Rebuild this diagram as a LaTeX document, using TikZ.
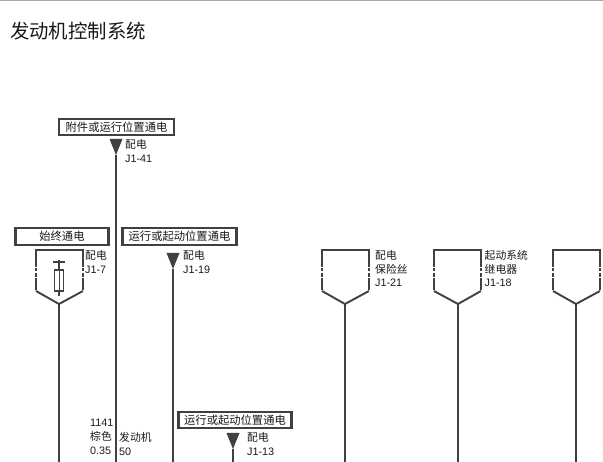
\documentclass[tikz,border=0pt]{standalone}
\usepackage{fontspec}
\setmainfont{Liberation Sans}
\newfontfamily\cjk{Noto Sans CJK SC}
\usetikzlibrary{positioning}
\definecolor{wire}{HTML}{404040}
\tikzset{
  powerbox/.style={draw=wire, line width=2.1pt, fill=white, minimum height=16.5pt, inner sep=0pt, font=\fontsize{11.3}{11.3}\selectfont\cjk, text=black!90},
  wireline/.style={draw=wire, line width=1.9pt},
  pinlabel/.style={anchor=north west, align=left, inner sep=0pt, font=\fontsize{10.8}{13.8}\selectfont, text=black!90},
  sidebreak/.style={draw=wire, line width=1.9pt, dash pattern=on 17pt off 1.5pt on 3pt off 1.5pt on 4pt off 1.5pt on 12pt},
  arrowpin/.style={fill=wire, draw=none}
}
\begin{document}
\begin{tikzpicture}[x=1pt, y=-1pt]
\useasboundingbox (0,0) rectangle (603,462);
\draw[gray!70, line width=1.5pt] (0,0.5) -- (603,0.5);
\node[anchor=west, inner sep=0pt, font=\fontsize{19.4}{19.4}\selectfont\cjk, text=black!90] (title) at (10, 31) {发动机控制系统};

% pins with solid arrow
\def\x{116}
\def\y{140}
\node[powerbox, minimum width=115pt] (boxa) at (116.5, 127) {附件或运行位置通电};
\coordinate (pina) at (\x, \y + 15);
\coordinate (enda) at (\x, 462);
\fill[arrowpin] (\x - 6.5, \y - 1) -- (\x + 6.5, \y - 1) -- (pina) -- cycle;
\draw[wireline] (pina) -- (enda);
\node[pinlabel] (laba) at (\x + 9, \y - 1) {{\cjk 配电}\\J1-41};

\def\x{173}
\def\y{254}
\node[powerbox, minimum width=114pt] (boxb) at (179.5, 236.5) {运行或起动位置通电};
\coordinate (pinb) at (\x, \y + 15);
\coordinate (endb) at (\x, 462);
\fill[arrowpin] (\x - 6.5, \y - 1) -- (\x + 6.5, \y - 1) -- (pinb) -- cycle;
\draw[wireline] (pinb) -- (endb);
\node[pinlabel] (labb) at (\x + 10, \y - 4) {{\cjk 配电}\\J1-19};

\def\x{233}
\def\y{434}
\node[powerbox, minimum width=113pt] (boxc) at (235, 420) {运行或起动位置通电};
\coordinate (pinc) at (\x, \y + 15);
\coordinate (endc) at (\x, 462);
\fill[arrowpin] (\x - 6.5, \y - 1) -- (\x + 6.5, \y - 1) -- (pinc) -- cycle;
\draw[wireline] (pinc) -- (endc);
\node[pinlabel] (labc) at (\x + 14, \y - 2) {{\cjk 配电}\\J1-13};

% connector shapes
\def\x{59}
\def\y{250}
\node[powerbox, minimum width=93pt] (boxd) at (62, 236.5) {始终通电};
\coordinate (pind) at (\x, \y + 54);
\coordinate (endd) at (\x, 462);
\draw[sidebreak] (\x - 23, \y) -- (\x - 23, \y + 41);
\draw[sidebreak] (\x + 24, \y) -- (\x + 24, \y + 41);
\draw[wireline] (\x - 24, \y) -- (\x + 25, \y);
\draw[wireline] (\x - 23, \y + 41) -- (pind) -- (\x + 24, \y + 41);
\draw[wireline] (pind) -- (endd);
\node[pinlabel] (labd) at (\x + 26, \y) {{\cjk 配电}\\J1-7};
% fuse
\draw[wire, line width=1.5pt] (\x - 6, \y + 12) -- (\x + 6, \y + 12);
\draw[wire, line width=1.5pt] (\x, \y + 10) -- (\x, \y + 46);
\draw[wire, line width=1.5pt, fill=white] (\x - 4.5, \y + 20) rectangle (\x + 4.5, \y + 41);
\draw[wire, line width=0.8pt] (\x, \y + 20) -- (\x, \y + 41);

\def\x{345}
\coordinate (pine) at (\x, \y + 54);
\coordinate (ende) at (\x, 462);
\draw[sidebreak] (\x - 23, \y) -- (\x - 23, \y + 41);
\draw[sidebreak] (\x + 24, \y) -- (\x + 24, \y + 41);
\draw[wireline] (\x - 24, \y) -- (\x + 25, \y);
\draw[wireline] (\x - 23, \y + 41) -- (pine) -- (\x + 24, \y + 41);
\draw[wireline] (pine) -- (ende);
\node[pinlabel] (labe) at (\x + 30, \y) {{\cjk 配电}\\{\cjk 保险丝}\\J1-21};

\def\x{458}
\coordinate (pinf) at (\x, \y + 54);
\coordinate (endf) at (\x, 462);
\draw[sidebreak] (\x - 24, \y) -- (\x - 24, \y + 41);
\draw[sidebreak] (\x + 23, \y) -- (\x + 23, \y + 41);
\draw[wireline] (\x - 25, \y) -- (\x + 24, \y);
\draw[wireline] (\x - 24, \y + 41) -- (pinf) -- (\x + 23, \y + 41);
\draw[wireline] (pinf) -- (endf);
\node[pinlabel] (labf) at (\x + 26.5, \y) {{\cjk 起动系统}\\{\cjk 继电器}\\J1-18};

\def\x{576}
\coordinate (ping) at (\x, \y + 54);
\coordinate (endg) at (\x, 462);
\draw[sidebreak] (\x - 23, \y) -- (\x - 23, \y + 41);
\draw[sidebreak] (\x + 24, \y) -- (\x + 24, \y + 41);
\draw[wireline] (\x - 24, \y) -- (\x + 25, \y);
\draw[wireline] (\x - 23, \y + 41) -- (ping) -- (\x + 24, \y + 41);
\draw[wireline] (ping) -- (endg);

% wire data
\node[pinlabel] (wiredata) at (90, 419) {1141\\{\cjk 棕色}\\0.35};
\node[pinlabel] (wirepart) at (119, 432.5) {{\cjk 发动机}\\50};
\end{tikzpicture}
\end{document}
